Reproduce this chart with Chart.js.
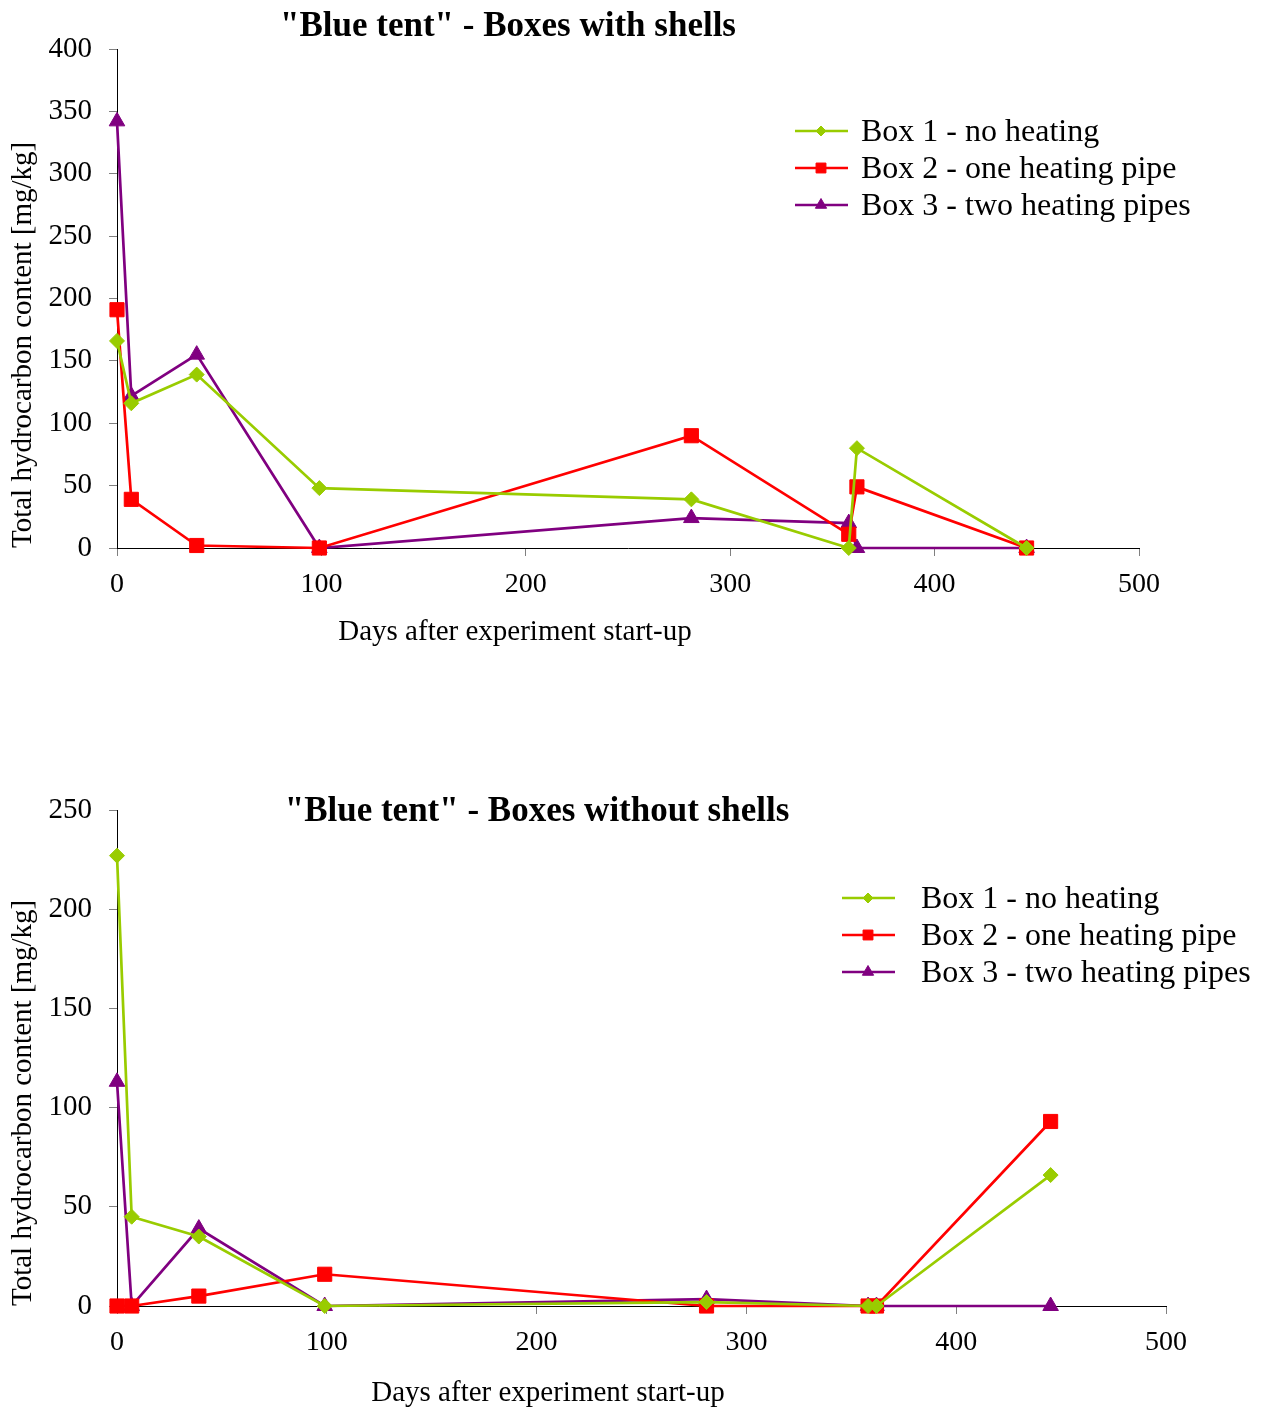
<!DOCTYPE html>
<html lang="en">
<head>
<meta charset="UTF-8">
<title>Blue tent - hydrocarbon content</title>
<style>
  body { margin: 0; background: #fff; }
  .wrap { position: relative; width: 1267px; height: 1410px; }
  canvas { position: absolute; left: 0; }
  #chartShells { top: 0; }
  #chartBare { top: 700px; }
</style>
</head>
<body>
<div class="wrap">
  <canvas id="chartShells" width="1267" height="700"></canvas>
  <canvas id="chartBare" width="1267" height="710"></canvas>
</div>

<script src="https://cdn.jsdelivr.net/npm/chart.js"></script>
<script>
  // sampling days (same for both charts)
  const days = [0, 7, 39, 99, 281, 358, 362, 445];

  const seriesNames = ['Box 1 - no heating', 'Box 2 - one heating pipe', 'Box 3 - two heating pipes'];

  // boxes with shells
  const shellBox1 = [166, 116, 139, 48, 39, 0, 80, 0];
  const shellBox2 = [191, 39, 2, 0, 90, 11, 49, 0];
  const shellBox3 = [342, 122, 155, 0, 24, 20, 0, 0];

  // boxes without shells
  const bareBox1 = [227, 45, 35, 0, 2, 0, 0, 66];
  const bareBox2 = [0, 0, 5, 16, 0, 0, 0, 93];
  const bareBox3 = [113, 0, 39, 0, 3.5, 0, 0, 0];

  const xTicks = [0, 100, 200, 300, 400, 500];
  const yTicksShells = [0, 50, 100, 150, 200, 250, 300, 350, 400];
  const yTicksBare = [0, 50, 100, 150, 200, 250];

  const serif = '"Liberation Serif", "Times New Roman", serif';
  Chart.defaults.font.family = serif;
  Chart.defaults.color = '#000';

  const estilos = [
    { cor: '#99CC00', ponto: 'rectRot', raio: 7.5, raioLeg: 5 },
    { cor: '#FF0000', ponto: 'rect', raio: 10, raioLeg: 7 },
    { cor: '#800080', ponto: 'triangle', raio: 9, raioLeg: 6.5 }
  ];

  function montarDatasets(series) {
    return series.map((valores, i) => ({
      label: seriesNames[i],
      data: days.map((d, k) => ({ x: d, y: valores[k] })),
      borderColor: estilos[i].cor,
      backgroundColor: estilos[i].cor,
      borderWidth: 2.7,
      pointStyle: estilos[i].ponto,
      pointRadius: estilos[i].raio,
      pointHoverRadius: estilos[i].raio,
      pointBorderWidth: 1,
      pointBackgroundColor: estilos[i].cor,
      pointBorderColor: estilos[i].cor,
      tension: 0,
      clip: false
    }));
  }

  // title, x title and legend drawn at fixed spots, like the original sheet
  const decoPlugin = {
    id: 'deco',
    afterDraw(chart, args, opts) {
      const ctx = chart.ctx;
      ctx.save();
      ctx.fillStyle = '#000';
      ctx.font = 'bold 35px ' + serif;
      ctx.textAlign = 'center';
      ctx.textBaseline = 'middle';
      ctx.fillText(opts.titulo, opts.tituloX, opts.tituloY);

      ctx.font = '29px ' + serif;
      ctx.fillText('Days after experiment start-up', opts.eixoX, opts.eixoY);

      ctx.font = '32px ' + serif;
      ctx.textAlign = 'left';
      chart.data.datasets.forEach((ds, i) => {
        const y = opts.legY + i * 37;
        const x = opts.legX;
        ctx.strokeStyle = estilos[i].cor;
        ctx.lineWidth = 2.5;
        ctx.beginPath();
        ctx.moveTo(x, y);
        ctx.lineTo(x + 53, y);
        ctx.stroke();
        ctx.fillStyle = estilos[i].cor;
        ctx.lineWidth = 1;
        Chart.helpers.drawPoint(ctx, { pointStyle: estilos[i].ponto, radius: estilos[i].raioLeg, rotation: 0, borderWidth: 1 }, x + 26, y);
        ctx.fillStyle = '#000';
        ctx.fillText(ds.label, x + opts.legTexto, y + 2);
      });
      ctx.restore();
    }
  };

  function criarGrafico(id, series, yMax, yTicks, caixa, deco) {
    const config = {
      type: 'line',
      data: { datasets: montarDatasets(series) },
      options: {
        responsive: false,
        animation: false,
        layout: { padding: { left: 0, top: caixa.top, right: caixa.right, bottom: 0 } },
        plugins: {
          legend: { display: false },
          title: { display: false },
          tooltip: { enabled: false },
          deco: deco
        },
        scales: {
          x: {
            type: 'linear',
            min: 0,
            max: 500,
            afterBuildTicks: s => { s.ticks = xTicks.map(v => ({ value: v })); },
            afterFit: s => { s.height = caixa.xHeight; },
            grid: { drawOnChartArea: false, drawTicks: true, tickLength: 8, color: '#808080' },
            border: { color: '#000', width: 1 },
            ticks: { font: { size: 28 }, padding: 12, maxRotation: 0 },
            title: { display: false }
          },
          y: {
            min: 0,
            max: yMax,
            afterBuildTicks: s => { s.ticks = yTicks.map(v => ({ value: v })); },
            afterFit: s => { s.width = 117; },
            grid: { drawOnChartArea: false, drawTicks: true, tickLength: 8, color: '#808080' },
            border: { color: '#000', width: 1 },
            ticks: { font: { size: 29 }, padding: 17 },
            title: {
              display: true,
              text: 'Total hydrocarbon content [mg/kg]',
              align: 'start',
              font: { size: 29 },
              padding: { top: 6, bottom: 0 }
            }
          }
        }
      },
      plugins: [decoPlugin]
    };
    return new Chart(document.getElementById(id), config);
  }

  criarGrafico('chartShells', [shellBox1, shellBox2, shellBox3], 400, yTicksShells,
    { top: 49, right: 128, xHeight: 152 },
    { titulo: '"Blue tent" - Boxes with shells', tituloX: 508, tituloY: 27,
      eixoX: 515, eixoY: 632, legX: 795, legY: 131, legTexto: 66 });

  criarGrafico('chartBare', [bareBox1, bareBox2, bareBox3], 250, yTicksBare,
    { top: 110, right: 101, xHeight: 104 },
    { titulo: '"Blue tent" - Boxes without shells', tituloX: 537, tituloY: 112,
      eixoX: 548, eixoY: 693, legX: 842, legY: 198, legTexto: 79 });
</script>
</body>
</html>
